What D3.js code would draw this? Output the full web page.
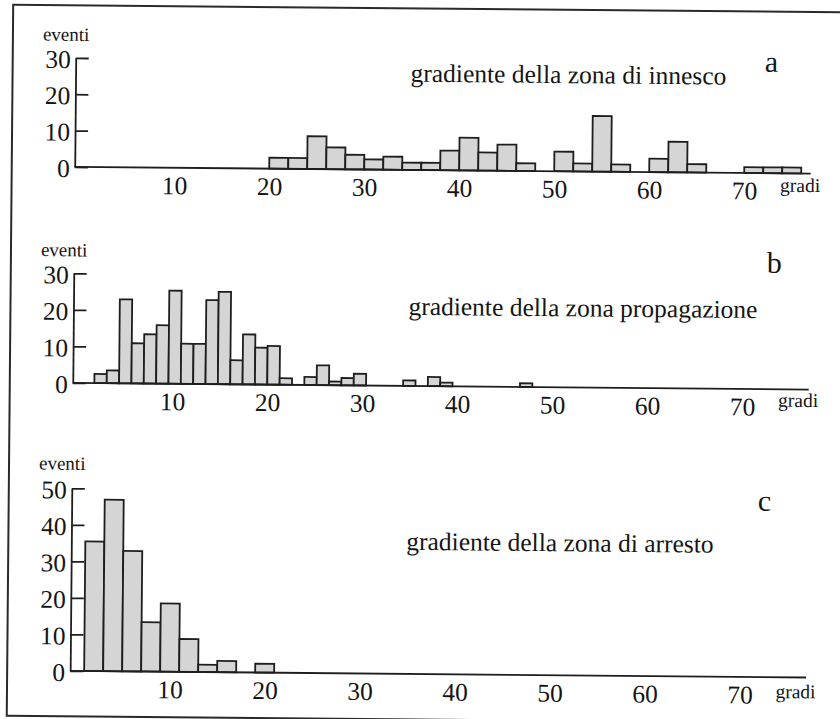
<!DOCTYPE html>
<html><head><meta charset="utf-8">
<script src="https://cdn.jsdelivr.net/npm/d3@7/dist/d3.min.js"></script>
<style>
body{margin:0;background:#fff}
text{font-family:"Liberation Serif","DejaVu Serif",serif;fill:#151515}
</style>
</head><body>
<svg id="chart" width="840" height="719"></svg>
<script>
// ---- data ----
const xTicks = [10, 20, 30, 40, 50, 60, 70];

const aStarts = [20,22,24,26,28,30,32,34,36,38,40,42,44,46,50,52,54,56,60,62,64,70,72,74];
const aCounts = [3,3,9,6,4,2.8,3.6,2,2,5.4,9,5,7.2,2.1,5.4,2.2,15.3,2,3.7,8.4,2.3,1.6,1.6,1.6];
const aBinWidth = 2;
const aYTicks = [0, 10, 20, 30];

const bStarts = [1.8,3.1,4.4,5.7,7.0,8.3,9.6,10.9,12.2,13.5,14.8,16.1,17.4,18.7,20.0,21.3,23.9,25.2,26.5,27.8,29.1,34.3,36.9,38.2,46.6];
const bCounts = [2.5,3.5,23,11,13.5,16,25.5,11,11,23,25.3,6.6,13.7,10.1,10.6,1.8,2.2,5.4,1,2,3.2,1.5,2.5,1,1];
const bBinWidth = 1.3;
const bYTicks = [0, 10, 20, 30];

const cStarts = [1,3,5,7,9,11,13,15,19];
const cCounts = [35.5,47,33,13.5,18.7,9,2,3.1,2.4];
const cBinWidth = 2;
const cYTicks = [0, 10, 20, 30, 40, 50];

const titles = ["gradiente della zona di innesco", "gradiente della zona propagazione", "gradiente della zona di arresto"];
const letters = ["a", "b", "c"];
const yAxisLabel = "eventi";
const xAxisLabel = "gradi";

// ---- layout ----
const panels = [
  {starts:aStarts, counts:aCounts, bw:aBinWidth, yTicks:aYTicks, title:titles[0], letter:letters[0],
   y0:170, yTop:61, eventiY:44, titleY:81.8, letterX:762, letterY:68.6, gradiY:188.5},
  {starts:bStarts, counts:bCounts, bw:bBinWidth, yTicks:bYTicks, title:titles[1], letter:letters[1],
   y0:386, yTop:276.5, eventiY:259.5, titleY:315, letterX:766, letterY:269.6, gradiY:403.5},
  {starts:cStarts, counts:cCounts, bw:cBinWidth, yTicks:cYTicks, title:titles[2], letter:letters[2],
   y0:674, yTop:491.5, eventiY:473, titleY:550, letterX:759, letterY:507.7, gradiY:694.8}
];

const svg = d3.select("#chart");
const root = svg.append("g").attr("transform", "rotate(0.52,420,360)");

// frame
root.append("rect").attr("x", 10).attr("y", 8.5).attr("width", 850).attr("height", 711)
  .attr("fill", "none").attr("stroke", "#2a2a2a").attr("stroke-width", 2);

const x = d3.scaleLinear().domain([0, 77]).range([77.5, 809]);
const axisX = 73;

panels.forEach(p => {
  const yMax = p.yTicks[p.yTicks.length - 1];
  const y = d3.scaleLinear().domain([0, yMax]).range([p.y0, p.yTop]);
  const g = root.append("g");

  // bars
  g.selectAll("rect.bar").data(p.starts.map((s, i) => ({s, c: p.counts[i]})))
    .join("rect").attr("class", "bar")
    .attr("x", d => x(d.s))
    .attr("width", d => x(d.s + p.bw) - x(d.s))
    .attr("y", d => y(d.c))
    .attr("height", d => p.y0 - y(d.c))
    .attr("fill", "#d5d5d5").attr("stroke", "#1e1e1e").attr("stroke-width", 1.8);

  // baseline
  g.append("line").attr("x1", axisX).attr("x2", x(77)).attr("y1", y(0)).attr("y2", y(0))
    .attr("stroke", "#1e1e1e").attr("stroke-width", 1.8);

  // y axis
  const ya = g.append("g").attr("transform", `translate(${axisX},0)`)
    .call(d3.axisLeft(y).tickValues(p.yTicks).tickSizeInner(-13).tickSizeOuter(0).tickPadding(5).tickFormat(d3.format("d")));
  ya.selectAll("path,line").attr("stroke", "#1e1e1e").attr("stroke-width", 1.8);
  ya.selectAll("text").attr("font-size", 25.5).attr("dy", "0.38em")
    .style("font-family", '"Liberation Serif",serif').attr("fill", "#151515");

  // x axis labels
  const xa = g.append("g").attr("transform", `translate(0,${p.y0})`)
    .call(d3.axisBottom(x).tickValues(xTicks).tickSize(0).tickPadding(8.4).tickFormat(d3.format("d")));
  xa.select(".domain").remove();
  xa.selectAll("text").attr("font-size", 25.5)
    .style("font-family", '"Liberation Serif",serif').attr("fill", "#151515");

  // texts
  g.append("text").attr("x", 40).attr("y", p.eventiY).attr("font-size", 19).text(yAxisLabel);
  g.append("text").attr("x", 778.5).attr("y", p.gradiY).attr("font-size", 19.5).text(xAxisLabel);
  g.append("text").attr("x", 408).attr("y", p.titleY).attr("font-size", 25.5).text(p.title);
  g.append("text").attr("x", p.letterX).attr("y", p.letterY).attr("font-size", 30).text(p.letter);
});
</script>
</body></html>
